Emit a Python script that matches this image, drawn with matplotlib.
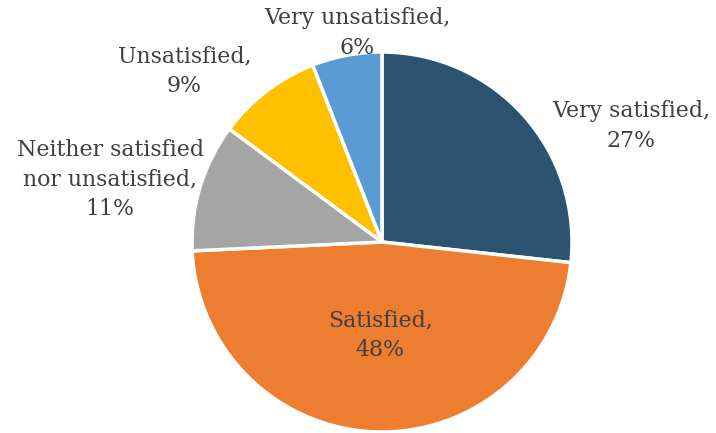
import matplotlib.pyplot as plt

# satisfaction survey shares, clockwise from 12 o'clock
labels = ["Very satisfied", "Satisfied", "Neither satisfied\nnor unsatisfied",
          "Unsatisfied", "Very unsatisfied"]
shares = [27, 48, 11, 9, 6]
colors = ["#2C5470", "#ED7D31", "#A5A5A5", "#FFC000", "#5B9BD5"]

# label centres in pie units (radius = 1)
label_pos = [(1.31, 0.61), (-0.01, -0.49), (-1.43, 0.33), (-1.04, 0.90), (-0.13, 1.10)]

W, H = 716, 433
fig = plt.figure(figsize=(W / 100, H / 100), dpi=100)
cx, cy, r = 382, 242, 190
ax = fig.add_axes([(cx - r) / W, (H - cy - r) / H, 2 * r / W, 2 * r / H])

ax.pie(shares, colors=colors, startangle=90, counterclock=False, radius=1,
       wedgeprops=dict(edgecolor="white", linewidth=2.5))

for lab, val, (x, y) in zip(labels, shares, label_pos):
    ax.text(x, y, f"{lab},\n{val}%", ha="center", va="center", fontsize=15.8,
            family="DejaVu Serif", color="#404040", linespacing=1.45, clip_on=False)

ax.set_xlim(-1, 1)
ax.set_ylim(-1, 1)
ax.set_aspect("equal")
ax.axis("off")

plt.savefig("out.png", dpi=100)
